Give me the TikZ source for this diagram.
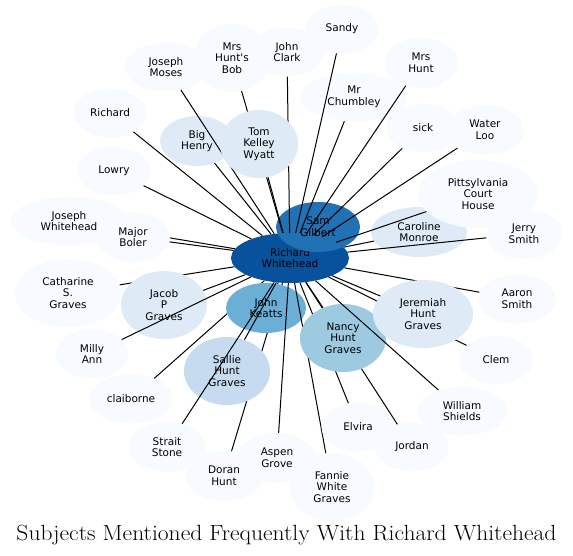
\documentclass[tikz,border=0pt]{standalone}
\usepackage{fontspec}
\usepackage{xcolor}
\usepackage{tikz}
\usetikzlibrary{shapes.geometric}
\newfontfamily\subjfont{DejaVu Sans}
\definecolor{blA}{HTML}{F7FBFF}
\definecolor{blB}{HTML}{DEEBF7}
\definecolor{blC}{HTML}{C6DBEF}
\definecolor{blD}{HTML}{9ECAE1}
\definecolor{blE}{HTML}{6BAED6}
\definecolor{blF}{HTML}{2171B5}
\definecolor{blG}{HTML}{08519C}
\tikzset{Subj/.style={ellipse,inner sep=0pt,align=center,fill=blA,minimum width=73pt,minimum height=49pt,font={\subjfont\fontsize{10.5pt}{11.7pt}\selectfont}}}
\tikzset{Tall/.style={minimum height=68pt}}
\tikzset{Lnk/.style={line width=1pt}}

\begin{document}
\begin{tikzpicture}[x=1pt,y=-1pt]
    \useasboundingbox (0,0) rectangle (573,556);
    \node[Subj,fill=blG,minimum width=118pt,minimum height=50pt] (rich) at (290,258) {Richard\\Whitehead};
    \node[Subj,fill=blF,minimum width=84pt,minimum height=50pt] (sam) at (318,227) {Sam\\Gilbert};
    \node[Subj,minimum width=108pt] (chum) at (354,97) {Mr\\Chumbley};
    \draw[Lnk] (rich) -- (chum);
    \node[Subj] (sandy) at (342,29) {Sandy};
    \draw[Lnk] (rich) -- (sandy);
    \node[Subj,minimum height=50pt] (mhunt) at (421,63) {Mrs\\Hunt};
    \draw[Lnk] (rich) -- (mhunt);
    \node[Subj] (sick) at (423,128) {sick};
    \draw[Lnk] (rich) -- (sick);
    \node[Subj,minimum width=78pt,minimum height=50pt] (water) at (485,130) {Water\\Loo};
    \draw[Lnk] (rich) -- (water);
    \node[Subj,fill=blB,minimum width=74pt,minimum height=50pt] (henry) at (197,141) {Big\\Henry};
    \draw[Lnk] (rich) -- (henry);
    \node[Subj,minimum width=82pt] (moses) at (166,67) {Joseph\\Moses};
    \draw[Lnk] (rich) -- (moses);
    \node[Subj,Tall,minimum width=77pt] (bob) at (232,58) {Mrs\\Hunt's\\Bob};
    \draw[Lnk] (rich) -- (bob);
    \node[Subj,minimum width=74pt] (clark) at (287,52) {John\\Clark};
    \draw[Lnk] (rich) -- (clark);
    \node[Subj,Tall,fill=blB,minimum width=78pt] (tom) at (259,144) {Tom\\Kelley\\Wyatt};
    \draw[Lnk] (rich) -- (tom);
    \node[Subj] (richard) at (110,113) {Richard};
    \draw[Lnk] (rich) -- (richard);
    \node[Subj] (lowry) at (114,171) {Lowry};
    \draw[Lnk] (rich) -- (lowry);
    \node[Subj,minimum width=116pt] (josw) at (69,221) {Joseph\\Whitehead};
    \draw[Lnk] (rich) -- (josw);
    \node[Subj,minimum width=74pt,minimum height=50pt] (boler) at (133,237) {Major\\Boler};
    \draw[Lnk] (rich) -- (boler);
    \node[Subj,Tall,minimum width=106pt] (cath) at (68,293) {Catharine\\S.\\Graves};
    \draw[Lnk] (rich) -- (cath);
    \node[Subj,Tall,fill=blB,minimum width=86pt] (jacob) at (164,305) {Jacob\\P\\Graves};
    \draw[Lnk] (rich) -- (jacob);
    \node[Subj] (milly) at (92,354) {Milly\\Ann};
    \draw[Lnk] (rich) -- (milly);
    \node[Subj,minimum width=84pt] (clai) at (131,399) {claiborne};
    \draw[Lnk] (rich) -- (clai);
    \node[Subj,minimum width=78pt,minimum height=50pt] (doran) at (224,476) {Doran\\Hunt};
    \draw[Lnk] (rich) -- (doran);
    \node[Subj,fill=blE,minimum width=80pt,minimum height=50pt] (keatts) at (266,308) {John\\Keatts};
    \draw[Lnk] (rich) -- (keatts);
    \node[Subj,Tall,fill=blC,minimum width=86pt] (sallie) at (227,371) {Sallie\\Hunt\\Graves};
    \draw[Lnk] (rich) -- (sallie);
    \node[Subj,minimum width=78pt,minimum height=50pt] (strait) at (167,447) {Strait\\Stone};
    \draw[Lnk] (rich) -- (strait);
    \node[Subj,minimum width=78pt,minimum height=50pt] (aspen) at (277,458) {Aspen\\Grove};
    \draw[Lnk] (rich) -- (aspen);
    \node[Subj,Tall,minimum width=85pt] (fannie) at (332,487) {Fannie\\White\\Graves};
    \draw[Lnk] (rich) -- (fannie);
    \node[Subj] (elvira) at (358,427) {Elvira};
    \draw[Lnk] (rich) -- (elvira);
    \node[Subj] (jordan) at (412,447) {Jordan};
    \draw[Lnk] (rich) -- (jordan);
    \node[Subj,Tall,fill=blD,minimum width=86pt] (nancy) at (343,338) {Nancy\\Hunt\\Graves};
    \draw[Lnk] (rich) -- (nancy);
    \node[Subj,minimum width=90pt] (shields) at (462,411) {William\\Shields};
    \draw[Lnk] (rich) -- (shields);
    \node[Subj] (clem) at (496,360) {Clem};
    \draw[Lnk] (rich) -- (clem);
    \node[Subj,minimum width=78pt] (aaron) at (517,299) {Aaron\\Smith};
    \draw[Lnk] (rich) -- (aaron);
    \node[Subj,Tall,fill=blB,minimum width=100pt] (jerem) at (423,314) {Jeremiah\\Hunt\\Graves};
    \draw[Lnk] (rich) -- (jerem);
    \node[Subj,fill=blB,minimum width=96pt,minimum height=50pt] (carol) at (419,232) {Caroline\\Monroe};
    \draw[Lnk] (rich) -- (carol);
    \node[Subj,Tall,minimum width=120pt] (pitts) at (478,194) {Pittsylvania\\Court\\House};
    \draw[Lnk] (rich) -- (pitts);
    \node[Subj,minimum width=76pt,minimum height=50pt] (jerry) at (524,234) {Jerry\\Smith};
    \draw[Lnk] (rich) -- (jerry);
    \node[font=\fontsize{22pt}{26pt}\selectfont,anchor=base,inner sep=0pt] (title) at (286.5,540.5) {\scalebox{1.07}[1]{Subjects Mentioned Frequently With Richard Whitehead}};
\end{tikzpicture}
\end{document}
